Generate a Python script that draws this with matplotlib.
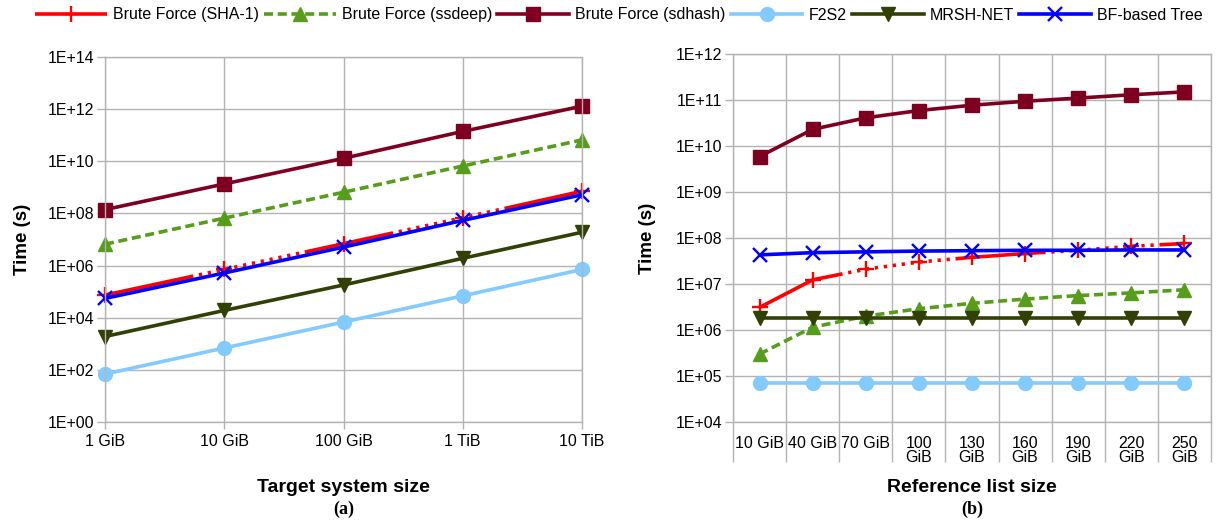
import matplotlib
matplotlib.use("Agg")
import matplotlib.pyplot as plt
import numpy as np
from matplotlib.ticker import FixedLocator, FuncFormatter, NullLocator

plt.rcParams['font.family'] = ['Liberation Sans', 'DejaVu Sans']

# ---- (a) lookup time vs. target system size ----
target_sizes = ["1 GiB", "10 GiB", "100 GiB", "1 TiB", "10 TiB"]
a_sha1 = [7.4e4, 7.1e5, 6.9e6, 6.8e7, 7.1e8]
a_ssdeep = [6.6e6, 6.6e7, 6.5e8, 6.6e9, 6.6e10]
a_sdhash = [1.4e8, 1.35e9, 1.3e10, 1.4e11, 1.3e12]
a_f2s2 = [69, 690, 6.8e3, 6.9e4, 7.1e5]
a_mrshnet = [1.9e3, 1.9e4, 1.8e5, 1.9e6, 1.9e7]
a_bftree = [5.5e4, 5.2e5, 5.1e6, 5.4e7, 5.2e8]

# ---- (b) lookup time vs. reference list size ----
ref_sizes = ["10 GiB", "40 GiB", "70 GiB", "100\nGiB", "130\nGiB",
             "160\nGiB", "190\nGiB", "220\nGiB", "250\nGiB"]
b_sha1 = [3.1e6, 1.23e7, 2.1e7, 3.0e7, 3.8e7, 4.6e7, 5.4e7, 6.6e7, 7.6e7]
b_ssdeep = [3.0e5, 1.15e6, 2.0e6, 2.9e6, 3.8e6, 4.7e6, 5.6e6, 6.4e6, 7.5e6]
b_sdhash = [5.9e9, 2.3e10, 4.1e10, 5.9e10, 7.7e10, 9.4e10, 1.1e11, 1.3e11, 1.5e11]
b_f2s2 = [7.0e4] * 9
b_mrshnet = [1.85e6] * 9
b_bftree = [4.3e7, 4.8e7, 5.0e7, 5.2e7, 5.3e7, 5.4e7, 5.4e7, 5.5e7, 5.5e7]

labels = ["Brute Force (SHA-1)", "Brute Force (ssdeep)", "Brute Force (sdhash)",
          "F2S2", "MRSH-NET", "BF-based Tree"]

# long dash followed by a run of dots
sha_dash = [25] + [1.6, 0.9] * 12 + [1.6]

styles = [
    dict(color="#ff0000", marker="+", markersize=12, markeredgewidth=1.7,
         dashes=sha_dash),
    dict(color="#579d1c", marker="^", markersize=10, dashes=[2.5, 1.3]),
    dict(color="#7e0021", marker="s", markersize=10, linestyle="-"),
    dict(color="#83caff", marker="o", markersize=10, linestyle="-"),
    dict(color="#314004", marker="v", markersize=10, linestyle="-"),
    dict(color="#0000ff", marker="x", markersize=10, markeredgewidth=1.7,
         linestyle="-"),
]

GRID = "#b3b3b3"
W, H = 1223, 527
fig = plt.figure(figsize=(W / 100, H / 100), dpi=100)


def box(l, t, r, b):
    return [l / W, 1 - b / H, (r - l) / W, (b - t) / H]


def style_axes(ax):
    for s in ax.spines.values():
        s.set_color(GRID)
        s.set_linewidth(1)
    ax.grid(True, color=GRID, linewidth=1)
    ax.set_axisbelow(True)
    ax.tick_params(axis="both", colors=GRID, labelcolor="black", labelsize=11.5,
                   width=1)
    ax.tick_params(axis="y", length=6, pad=2)


exp_fmt = FuncFormatter(lambda v, p: "1E+%02d" % int(round(np.log10(v))))

# ---------- left panel ----------
axa = fig.add_axes(box(105, 57, 582, 422))
xa = np.arange(len(target_sizes))
series_a = [a_sha1, a_ssdeep, a_sdhash, a_f2s2, a_mrshnet, a_bftree]
handles = []
for vals, st, lab in zip(series_a, styles, labels):
    ln, = axa.plot(xa, vals, linewidth=2.6, clip_on=False, label=lab,
                   dash_capstyle="butt", **st)
    handles.append(ln)
axa.set_yscale("log")
axa.set_ylim(1, 1e14)
axa.yaxis.set_major_locator(FixedLocator([10.0 ** k for k in range(0, 15, 2)]))
axa.yaxis.set_minor_locator(NullLocator())
axa.yaxis.set_major_formatter(exp_fmt)
axa.set_xlim(0, len(target_sizes) - 1)
axa.set_xticks(xa)
axa.set_xticklabels(target_sizes)
style_axes(axa)
axa.tick_params(axis="x", length=5, pad=4)
axa.set_ylabel("Time (s)", fontsize=13.5, fontweight="bold", labelpad=12)

# ---------- right panel ----------
axb = fig.add_axes(box(733, 54, 1211, 422))
xb = np.arange(len(ref_sizes))
series_b = [b_sha1, b_ssdeep, b_sdhash, b_f2s2, b_mrshnet, b_bftree]
for vals, st in zip(series_b, styles):
    axb.plot(xb, vals, linewidth=2.6, clip_on=False, dash_capstyle="butt", **st)
axb.set_yscale("log")
axb.set_ylim(1e4, 1e12)
axb.yaxis.set_major_locator(FixedLocator([10.0 ** k for k in range(4, 13)]))
axb.yaxis.set_minor_locator(NullLocator())
axb.yaxis.set_major_formatter(exp_fmt)
axb.set_xlim(-0.5, len(ref_sizes) - 0.5)
axb.set_xticks(xb)
axb.set_xticklabels(ref_sizes, linespacing=0.95, va="top")
axb.xaxis.set_minor_locator(FixedLocator(np.arange(len(ref_sizes) + 1) - 0.5))
style_axes(axb)
axb.xaxis.grid(False, which="major")
axb.xaxis.grid(True, which="minor", color=GRID, linewidth=1)
axb.tick_params(axis="x", which="major", length=0, pad=10)
axb.tick_params(axis="x", which="minor", length=29, width=1, color=GRID)
axb.set_ylabel("Time (s)", fontsize=13.5, fontweight="bold", labelpad=14)

# axis titles with panel tags underneath
for ax, title, tag in [(axa, "Target system size", "(a)"),
                       (axb, "Reference list size", "(b)")]:
    pos = ax.get_position()
    cx = (pos.x0 + pos.x1) / 2
    fig.text(cx, 1 - 487 / H, title, ha="center", va="center",
             fontsize=14, fontweight="bold")
    fig.text(cx, 1 - 509 / H, tag, ha="center", va="center", fontsize=13,
             fontweight="bold", family=["Liberation Serif", "DejaVu Serif"])

fig.legend(handles=handles, loc="center", bbox_to_anchor=(0.506, 1 - 15 / H),
           ncol=6, frameon=False, fontsize=11.5, handlelength=4.5,
           handletextpad=0.4, columnspacing=0.3, borderaxespad=0,
           borderpad=0)

fig.savefig("out.png", dpi=100, facecolor="white")
